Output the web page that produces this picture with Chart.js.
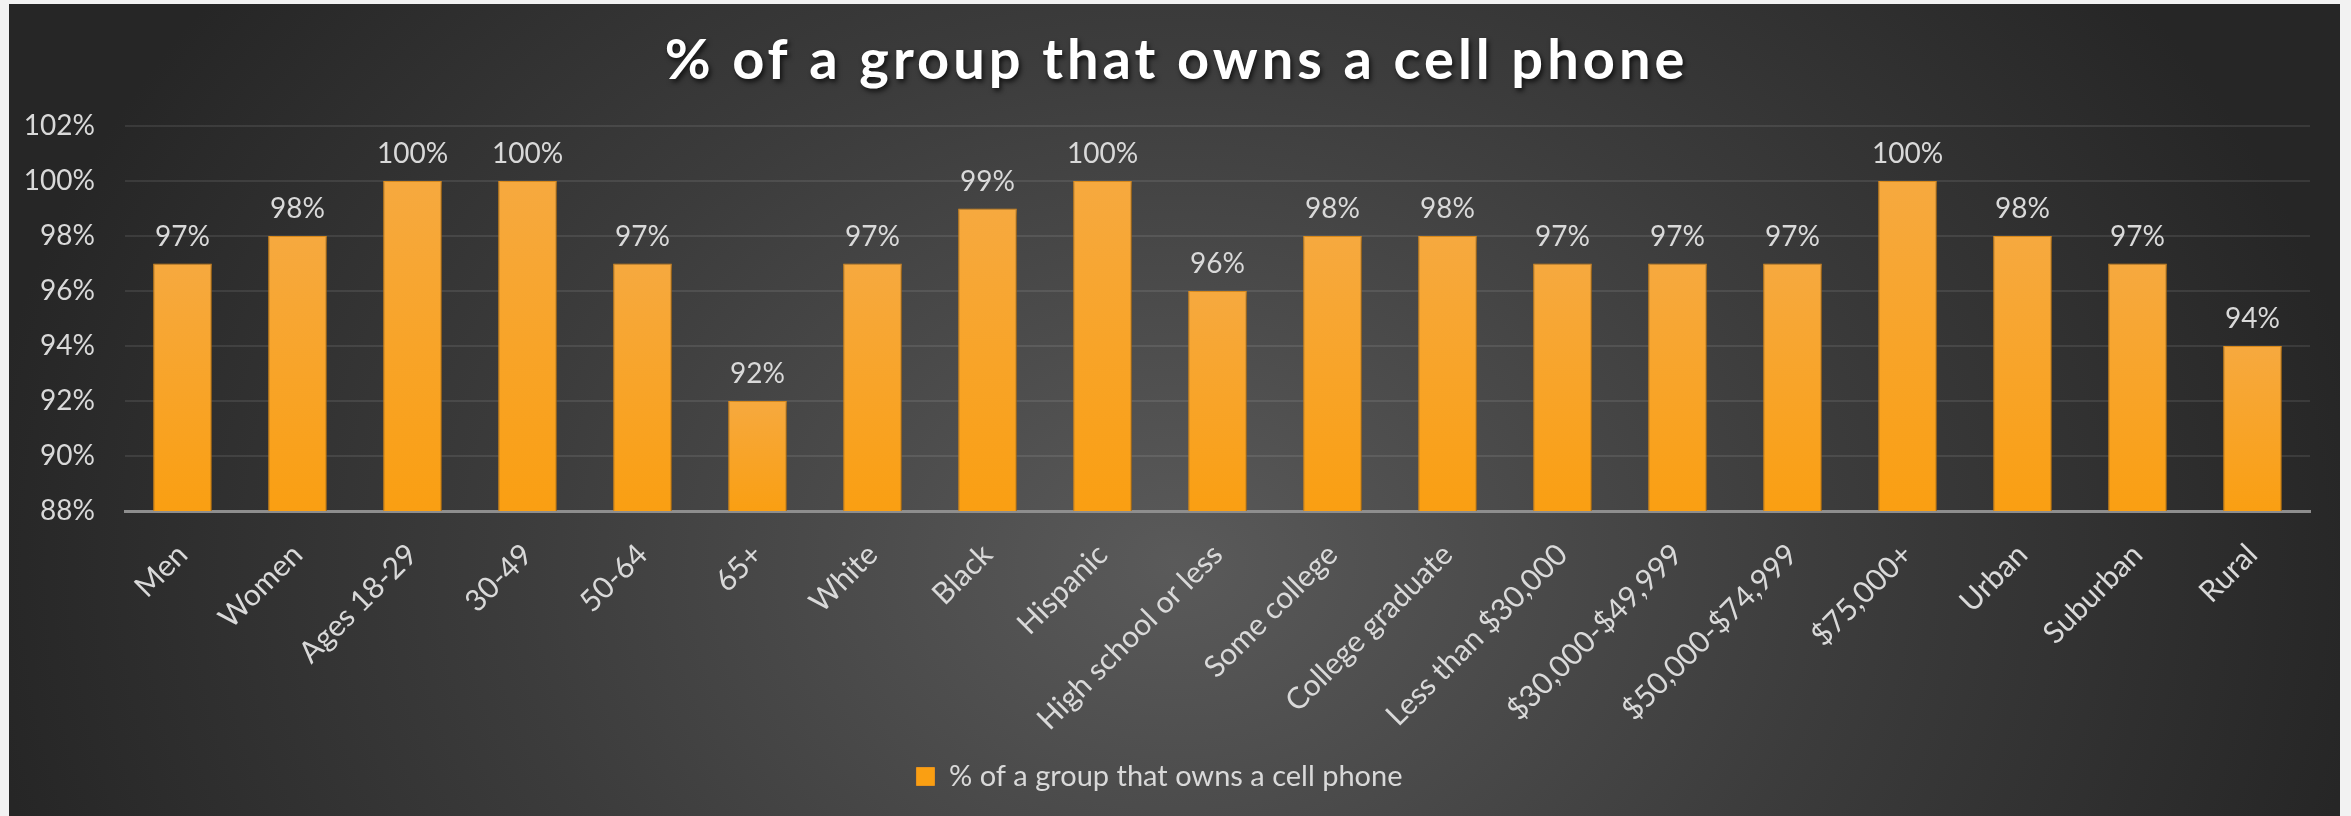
<!DOCTYPE html>
<html>
<head>
<meta charset="utf-8">
<title>% of a group that owns a cell phone</title>
<script src="https://cdn.jsdelivr.net/npm/chart.js@4.4.1/dist/chart.umd.min.js"></script>
<style>
    html, body {
        margin: 0;
        padding: 0;
        width: 2351px;
        height: 816px;
        background: #f2f2f2;
        overflow: hidden;
    }
    #panel {
        position: absolute;
        left: 9px;
        top: 4px;
        width: 2331px;
        height: 812px;
        background: radial-gradient(ellipse 1200px 950px at 1166px 560px, #5a5a5a 0%, #3c3c3c 55%, #262626 100%);
    }
</style>
</head>
<body>
<div id="panel"><canvas id="phone-chart"></canvas></div>
<script>
const chartTitle = '% of a group that owns a cell phone';
const categories = [
    'Men', 'Women', 'Ages 18-29', '30-49', '50-64', '65+', 'White', 'Black', 'Hispanic',
    'High school or less', 'Some college', 'College graduate', 'Less than $30,000',
    '$30,000-$49,999', '$50,000-$74,999', '$75,000+', 'Urban', 'Suburban', 'Rural'
];
const ownership = [97, 98, 100, 100, 97, 92, 97, 99, 100, 96, 98, 98, 97, 97, 97, 100, 98, 97, 94];
const yMin = 88;
const yMax = 102;
const yStep = 2;

const textColor = '#d9d9d9';
Chart.defaults.font.family = 'Lato, "Open Sans", sans-serif';
Chart.defaults.color = textColor;

// bar fill: each bar gets its own light-to-deep orange gradient
const barFill = (context) => {
    const chart = context.chart;
    if (context.type !== 'data' || !chart.chartArea) {
        return '#f8a226';
    }
    const y = chart.scales.y;
    const top = y.getPixelForValue(context.raw);
    const bottom = y.getPixelForValue(yMin);
    const gradient = chart.ctx.createLinearGradient(0, top, 0, bottom);
    gradient.addColorStop(0, '#f6a93f');
    gradient.addColorStop(1, '#fa9f12');
    return gradient;
};

// title with a drop shadow, plus value labels over the bars
const decorations = {
    id: 'decorations',
    beforeDatasetsDraw(chart) {
        const ctx = chart.ctx;
        ctx.save();
        ctx.shadowColor = 'rgba(0, 0, 0, 0.35)';
        ctx.shadowBlur = 6;
        ctx.shadowOffsetX = 2;
        ctx.shadowOffsetY = 2;
    },
    afterDatasetsDraw(chart) {
        const ctx = chart.ctx;
        ctx.restore();
        const meta = chart.getDatasetMeta(0);
        ctx.save();
        ctx.font = '28px Lato, "Open Sans", sans-serif';
        ctx.fillStyle = textColor;
        ctx.textAlign = 'center';
        ctx.textBaseline = 'alphabetic';
        meta.data.forEach((bar, i) => {
            ctx.fillText(ownership[i] + '%', bar.x, bar.y - 18);
        });
        ctx.restore();
    },
    afterDraw(chart) {
        const ctx = chart.ctx;
        ctx.save();
        ctx.font = 'bold 56px Lato, "Open Sans", sans-serif';
        ctx.letterSpacing = '4px';
        ctx.fillStyle = '#ffffff';
        ctx.textAlign = 'center';
        ctx.textBaseline = 'middle';
        ctx.shadowColor = 'rgba(0, 0, 0, 0.7)';
        ctx.shadowBlur = 5;
        ctx.shadowOffsetX = 2;
        ctx.shadowOffsetY = 3;
        ctx.fillText(chartTitle, chart.width / 2 + 2, 57);
        ctx.restore();
    }
};

const phoneChart = new Chart(document.getElementById('phone-chart'), {
    type: 'bar',
    data: {
        labels: categories,
        datasets: [{
            label: chartTitle,
            data: ownership,
            backgroundColor: barFill,
            borderColor: '#e8931c',
            borderWidth: 1,
            barPercentage: 0.51,
            categoryPercentage: 1.0,
        }]
    },
    options: {
        responsive: true,
        maintainAspectRatio: false,
        animation: false,
        layout: {
            padding: { top: 122, right: 30, bottom: 15, left: 0 }
        },
        plugins: {
            title: { display: false },
            tooltip: { enabled: false },
            legend: {
                position: 'bottom',
                labels: {
                    color: textColor,
                    font: { size: 29 },
                    boxWidth: 18,
                    boxHeight: 18,
                    padding: 10,
                }
            }
        },
        scales: {
            x: {
                grid: { display: false },
                border: { display: true, color: '#8e8e8e', width: 3 },
                ticks: {
                    color: textColor,
                    font: { size: 30 },
                    minRotation: 45,
                    maxRotation: 45,
                    padding: 18,
                    autoSkip: false,
                },
                afterFit(scale) {
                    scale.height = 241;
                }
            },
            y: {
                min: yMin,
                max: yMax,
                border: { display: false },
                grid: {
                    color: 'rgba(255, 255, 255, 0.09)',
                    lineWidth: 2,
                    drawTicks: false,
                },
                ticks: {
                    stepSize: yStep,
                    color: textColor,
                    font: { size: 28 },
                    padding: 30,
                    callback: (value) => value + '%',
                },
                afterFit(scale) {
                    scale.width = 116;
                }
            }
        }
    },
    plugins: [decorations]
});
</script>
</body>
</html>
